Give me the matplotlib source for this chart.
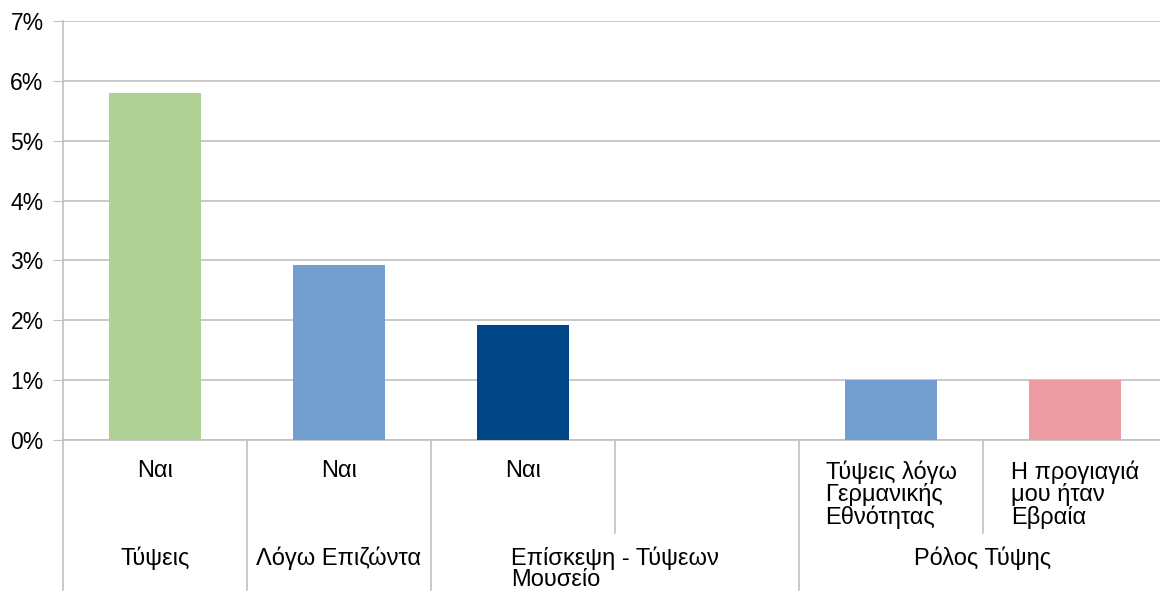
import matplotlib
matplotlib.use("Agg")
import matplotlib.pyplot as plt
import matplotlib.transforms as mtransforms
from matplotlib.ticker import FuncFormatter

# data
sub_labels = ["Ναι", "Ναι", "Ναι", "",
              "Τύψεις λόγω\nΓερμανικής\nΕθνότητας",
              "Η προγιαγιά\nμου ήταν\nΕβραία"]
values = [5.8, 2.92, 1.92, 0.0, 1.0, 1.0]
bar_colors = ["#afd095", "#729fcf", "#004586", "#729fcf", "#729fcf", "#ed9ba3"]
groups = ["Τύψεις", "Λόγω Επιζώντα", "Επίσκεψη - Τύψεων\nΜουσείο", "Ρόλος Τύψης"]
group_spans = [(0, 0), (1, 1), (2, 3), (4, 5)]

plt.rcParams['font.family'] = ['Liberation Sans', 'DejaVu Sans']
grid_col = "#c0c0c0"
fs = 16.5
lab_fs = 17

fig = plt.figure(figsize=(11.6, 5.92), dpi=100)
ax = fig.add_axes([63 / 1160, 1 - 440 / 592, 1104 / 1160, 419 / 592])

x = list(range(len(values)))
ax.bar(x, values, width=0.5, color=bar_colors, zorder=3)

ax.set_xlim(-0.5, len(values) - 0.5)
ax.set_ylim(0, 7)
ax.set_yticks(range(0, 8))
ax.yaxis.set_major_formatter(FuncFormatter(lambda v, p: f"{int(v)}%"))
ax.grid(axis="y", color=grid_col, linewidth=1.2, zorder=0)
ax.tick_params(axis="y", length=7, color=grid_col, labelsize=fs, pad=7)
ax.set_xticks([])
for s in ["top", "right"]:
    ax.spines[s].set_visible(False)
for s in ["left", "bottom"]:
    ax.spines[s].set_color(grid_col)
    ax.spines[s].set_linewidth(1.2)

trans = mtransforms.blended_transform_factory(ax.transData, ax.transAxes)

# lower level labels
for i, lab in enumerate(sub_labels):
    if lab:
        ax.text(i, -0.048, lab, transform=trans, ha="center", va="top",
                multialignment="left", fontsize=lab_fs, linespacing=0.98)

# separators
full_y = -0.358
short_y = -0.222
bounds = set()
for a, b in group_spans:
    bounds.add(a - 0.5)
    bounds.add(b + 0.5)
for k in range(len(values)):
    xb = k - 0.5
    y_end = full_y if xb in bounds else short_y
    ax.plot([xb, xb], [0, y_end], transform=trans, color=grid_col,
            linewidth=1.2, clip_on=False)

# group labels
for g, (a, b) in zip(groups, group_spans):
    ax.text((a + b) / 2, -0.253, g, transform=trans, ha="center", va="top",
            multialignment="left", fontsize=lab_fs, linespacing=0.98)

fig.savefig("out.png", dpi=100)
